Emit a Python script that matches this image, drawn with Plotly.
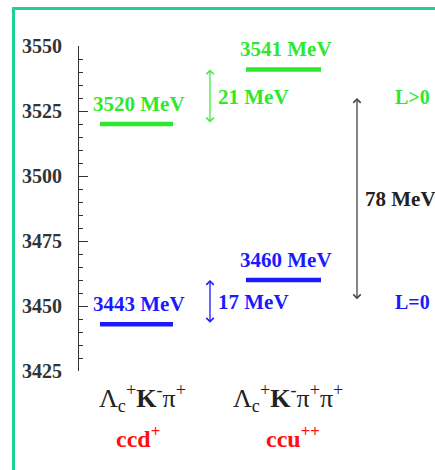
import plotly.graph_objects as go

# Mass levels (MeV) for the two final states
left_levels = [3520, 3443]       # Λc+ K- π+   (ccd+)
right_levels = [3541, 3460]      # Λc+ K- π+ π+ (ccu++)
level_colors = ["#2ee82e", "#1a1aff"]

# Splittings drawn as double arrows: (lower, size)
split_green = (3520, 21)
split_blue = (3443, 17)
split_l = (3452, 78)

y_range = [3425, 3550]
y_major = 25
y_minor = 5

W, H = 435, 470
L, R, T, B = 79, 0, 46, 99          # plot area in pixels
serif = "Liberation Serif, Times New Roman, serif"

fig = go.Figure()

# horizontal level bars
for lv, col in zip(left_levels, level_colors):
    fig.add_trace(go.Scatter(x=[100, 173], y=[lv, lv], mode="lines",
                             line=dict(color=col, width=4.5), hoverinfo="skip"))
for lv, col in zip(right_levels, level_colors):
    fig.add_trace(go.Scatter(x=[246, 321], y=[lv, lv], mode="lines",
                             line=dict(color=col, width=4.5), hoverinfo="skip"))

ann = []
# level labels above bars
for lv, col in zip(left_levels, level_colors):
    ann.append(dict(x=139, y=lv, yshift=20, text=f"<b>{lv} MeV</b>", showarrow=False,
                    font=dict(family=serif, size=21, color=col)))
for lv, col in zip(right_levels, level_colors):
    ann.append(dict(x=286, y=lv, yshift=20, text=f"<b>{lv} MeV</b>", showarrow=False,
                    font=dict(family=serif, size=21, color=col)))

# splitting arrows
def split_arrow(xpos, lo, size, col, label_x, label_col):
    ann.append(dict(x=xpos, y=lo + size, ax=xpos, ay=lo, axref="x", ayref="y",
                    xref="x", yref="y", text="", showarrow=True,
                    arrowside="end+start", arrowhead=4, arrowsize=1.1,
                    arrowwidth=1.3, arrowcolor=col))
    ann.append(dict(x=label_x, y=lo + size / 2, xanchor="left", text=f"<b>{size} MeV</b>",
                    showarrow=False, font=dict(family=serif, size=21, color=label_col)))

split_arrow(210, split_green[0], split_green[1], "#44e844", 216, "#2ee82e")
split_arrow(210, split_blue[0], split_blue[1], "#1a1aff", 216, "#1a1aff")
split_arrow(357, split_l[0], split_l[1], "#444444", 363, "#222222")

# orbital labels
ann.append(dict(x=393, y=split_green[0] + split_green[1] / 2, xanchor="left", text="<b>L>0</b>",
                showarrow=False, font=dict(family=serif, size=20, color="#2ee82e")))
ann.append(dict(x=393, y=split_blue[0] + split_blue[1] / 2, xanchor="left", text="<b>L=0</b>",
                showarrow=False, font=dict(family=serif, size=20, color="#1a1aff")))

# final-state labels under the axis
ph = H - T - B
def py(p):
    return (H - B - p) / ph

ann.append(dict(x=142, xref="x", y=py(398), yref="paper", yanchor="middle", showarrow=False,
                text="Λ<sub>c</sub><sup>+</sup><b>K</b><sup>-</sup>π<sup>+</sup>",
                font=dict(family=serif, size=26, color="#222222")))
ann.append(dict(x=288, xref="x", y=py(398), yref="paper", yanchor="middle", showarrow=False,
                text="Λ<sub>c</sub><sup>+</sup><b>K</b><sup>-</sup>π<sup>+</sup>π<sup>+</sup>",
                font=dict(family=serif, size=26, color="#222222")))
ann.append(dict(x=138, xref="x", y=py(437), yref="paper", yanchor="middle", showarrow=False,
                text="<b>ccd<sup>+</sup></b>",
                font=dict(family=serif, size=24, color="#ff1010")))
ann.append(dict(x=293, xref="x", y=py(437), yref="paper", yanchor="middle", showarrow=False,
                text="<b>ccu<sup>++</sup></b>",
                font=dict(family=serif, size=24, color="#ff1010")))

# frame around the panel
pw = W - L - R
def px(p):
    return (p - L) / pw

shapes = [dict(type="rect", xref="paper", yref="paper",
               x0=px(13.5), x1=px(W + 10), y0=py(H + 10), y1=py(8.5),
               line=dict(color="#1fcf98", width=3))]

fig.update_layout(
    width=W, height=H, margin=dict(l=L, r=R, t=T, b=B),
    paper_bgcolor="white", plot_bgcolor="white", showlegend=False,
    annotations=ann, shapes=shapes,
    xaxis=dict(range=[L, W], visible=False, fixedrange=True),
    yaxis=dict(range=y_range, dtick=y_major, tick0=3425, ticks="inside", ticklen=9,
               tickwidth=1, tickcolor="#333333", showline=True, linecolor="#333333",
               linewidth=1, showgrid=False, zeroline=False, ticklabelstandoff=12,
               tickfont=dict(family=serif, size=20, color="#333333", weight="bold"),
               minor=dict(dtick=y_minor, ticks="inside", ticklen=4, tickcolor="#333333",
                          showgrid=False)),
)

fig.write_html("out.html")
